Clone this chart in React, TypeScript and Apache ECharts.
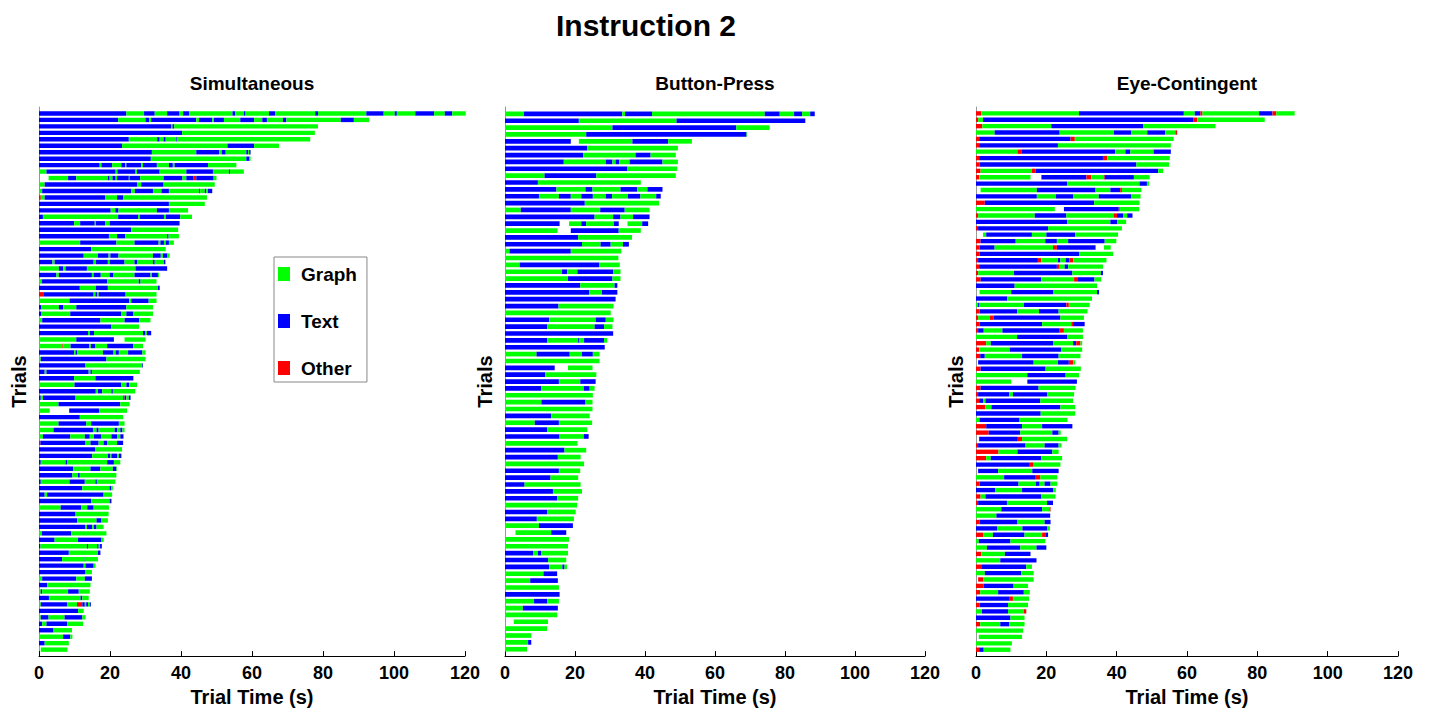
import React, { useEffect, useRef } from "react";
import * as echarts from "echarts";

const CATEGORIES = ["Graph", "Text", "Other"];
const COLORS = ["#00ff00", "#0000ff", "#ff0000"];
const PANEL_TITLES = ["Simultaneous", "Button-Press", "Eye-Contingent"];
const MAIN_TITLE = "Instruction 2";
const X_AXIS_NAME = "Trial Time (s)";
const Y_AXIS_NAME = "Trials";

// Each trial: tokens "<code><end time s>", code G=Graph, B=Text, R=Other, W=no fixation
const SIMULTANEOUS = [
  "B24.6 G29.6 B32.6 G36.1 B39.6 G40.6 B42.3 G54.5 B55.3 G57.7 B58.2 G64.8 B66.5 G77.8 B78.6 G92.2 B97.1 G100.2 B100.8 G106 B111.3 G114.3 B116.4 G120.2",
  "B22.3 G30 B31 G31.6 B44.3 G45.1 B48.8 G49.3 B52.1 G56.7 B60.6 G62.9 B64.2 G68.7 B69.7 G85 B88.7 G93",
  "B37.3 G37.6 B38.1 G78.6",
  "B40.3 G77.7",
  "B25.3 G33.3 B34 G35.1 B35.7 G38.7 B39 G76.4",
  "B23.4 G53.1 B60.6 G67.6",
  "B31.8 G44.3 B50.7 G51.5 B52.6 G58.4 B58.9 G59.2 B59.6",
  "B31.5 G58.4 B59.3 G59.6",
  "B17.1 G17.6 B20.6 G23.2 B24.3 G24.6 B28.8 G29.3 B33.2 G36.6 B37.7 G38.2 B47.6 G55.6",
  "G2.1 B21.6 G22.1 B27.2 G27.6 B34 G41.5 B49 G53.5 B53.8 G57.7",
  "W2.7 G8.2 B10.5 G19.4 B19.9 G20.7 B21.6 G22 B25.3 G25.5 B28.5 G35.1 B40.4 G41.5 B43.4 R44.3 B49.2 G50",
  "G1.6 B27.6 G28.8 B35.1 G49.5",
  "G0.9 B26 G27 B32.1 G34.5 B36.6 G45.1 B45.4 G46.7 B47.1 G47.6 B48.8",
  "R0.5 G1.6 B18.7 G22 B23.7 G47.3",
  "B36.6 G46.7",
  "B20.2 G21.5 B22.4 G33.2 B36.6 G42",
  "B1.1 G22.3 B27.9 G28.4 B35.2 G35.7 B39.8 G43.1",
  "B9.9 G11.6 B15.7 G16 B18.6 G19.9 B39.6",
  "B26 G39.2",
  "B19.7 G22 B24.3 G36.1 B36.5 G39.4",
  "G11.6 B21.8 G26.9 B33.7 G34.2 B35.2 G35.7 B36.6 G38",
  "B14.7 G35.7",
  "B12.6 G16.6 B19.6 G20.1 B22.4 G32.1 B34.3 G34.9 B36.2 G36.8",
  "B3.8 G4.4 B15.4 G16 B19.4 G19.9 B24.1 G26.9 B27.6 G32.1 B32.6 G35.2 B35.6",
  "G5.6 B6.8 G7.5 B13.5 G27.2 B36.1",
  "B4.9 G5.6 B14.9 G15.4 B17.4 G19.9 B21 G26.9 B31.4 G31.8 B33.5 G33.8",
  "G0.8 B19.2 G28.1 B28.6 G33.1",
  "B11.5 G16 B19.4 G33.5 B34",
  "R1.4 B15.4 G15.9 B16.4 G16.8 B24.4 G33.1",
  "G8.6 B25.4 G26 B30.9 G33.1",
  "B0.7 G5.6 B6.8 G10.5 B24.6 G32.1",
  "B0.7 G8.8 B23.2 G24.6 B26.5 G32.1",
  "G0.9 B17.3 G24.1 B28.2 G31.4",
  "B20.4 G28.2",
  "B13.8 G14.3 B15.5 G29.3 B30 G30.4 B31.6",
  "G10.5 B21.1 W24.1 G30",
  "G6.6 R6.9 G8.9 B14.1 G14.6 B15.9 G19.2 B26.5 G29.3",
  "B9.9 G10.3 B10.8 G18 B21 G21.6 B22.5 G25.1 B29.1 G30",
  "G0.5 B19 G30",
  "B13.1 G29.1 B29.3",
  "B1.6 G2.1 B14 G14.5 B14.9 G28.4",
  "B9.9 G15.9 B26.5 G26.7",
  "G10 B23.2 G24.6 B25.4 G27.6",
  "B16 G16.6 B17.8 G20.4 B20.8 G27.1",
  "B0.5 G1.1 B10.3 G23.7 R24.1 B24.6 G25.3 B25.8",
  "G5.5 B22.9 G25.5",
  "G3 W8.5 B16.9 G24.8",
  "B11.5 G23.7",
  "G5.5 B13.3 G14.7 B22.5 G24.1",
  "G4.1 B15.2 G16.2 B16.8 G21.3 B22 G22.9 B23.5 G24.1",
  "G1.1 B8.8 G12.9 B14.3 G15.5 B17.6 G20.4 B22 G22.9 B23.8",
  "R0.4 B13.1 G14.5 B16.8 G18.2 B19.2 G22 B23.7",
  "B15.9 G23.4",
  "B15 G19.4 B20.1 G20.4 B22 G22.5 B23.2",
  "B0.5 G7.5 B7.9 G19.2 B21.1 G22.9",
  "B9.6 G14.5 B17.3 G20.8 B21.8 G22",
  "B9.4 G11 B11.5 G21.8",
  "B0.5 G8.6 B12.9 G15.9 B16.3 G21.5",
  "B12.2 G19.9 B20.4 G20.8",
  "B1.6 G2.3 B18.2 G20.6",
  "B14.7 G19.9 B20.4",
  "G6.1 B11.9 G13.6 B15.4 G19.7",
  "B10.3 G19.6",
  "B10.8 G16.2 B17.6 G19.4",
  "B13.1 G13.5 B15 G15.5 B16.2 G18.2",
  "G0.8 B9.1 G19",
  "B4.4 G11 B17.6 G18.2",
  "B0.4 G13.5 B13.8 G16.4 B16.8 G17.2 B17.7",
  "B8.4 G16.6 B17.3",
  "B6.5 G12.9 B13.1 G16.6",
  "B12.6 G13.1 B15.4 G15.9",
  "B13.1 G14.9",
  "G0.9 B10.5 G12.9 B14.9",
  "B2.3 G14.5",
  "G0.5 B0.9 G8.2 B11.2 G14.3",
  "B2.8 G11.7 B12.2 G14",
  "G0.5 B7.9 G10.7 R12.2 B12.9 G13.3 B13.8 G14.3 B14.6",
  "B11 G12.6",
  "G0.5 B2.7 G7.2 B12.2 G13.1",
  "B0.9 G2.1 B7.9 G12.4",
  "B4.1 G9.3",
  "G6.8 B8.8 G9.4",
  "B1.6 G8.4",
  "W0.5 G8",
];

const BUTTON_PRESS = [
  "G5.4 B33.5 G34.3 B42 G74.2 B78.5 G82.6 B84.9 G87.2 B88.5",
  "B21.1 G49 B85.8",
  "G30.7 B66.1 G75.6",
  "G23.2 B69 G69.2",
  "B18.8 W21.1 G36.4 B46.6 G53.4",
  "B23.5 G49.4",
  "B22.3 G37.3 B41.6 G48.8",
  "B16.8 G28.8 B30.7 G31.6 B32.6 G35.6 B45 G49.4",
  "B35 G49.2",
  "G11.3 B26.1 G48.8",
  "B9.4 G38.8",
  "B14.7 G23 B25 G33 B37.8 G40.7 B45",
  "B9.7 G15.4 B18.8 G21.8 B25.1 G28.8 B30.6 G35.1 B38.7 G43.2 B44.5",
  "B22.8 G44",
  "G4.5 B18.8 G27.2 B34.2 G41.3",
  "B25.6 G30.9 B33 G36.6 B41.3",
  "B15.6 W18.3 G21.8 B23.2 G31.1 B32.5 W35 G39.2 B40.9",
  "G15 W18.8 B32.5 G38.8",
  "B20.9 G36.3",
  "B22 G27.3 B30.2 G33.7 B35.4",
  "G1.3 B18.8 G33.2",
  "G32.4",
  "G4.2 B27 G32.8",
  "G16.3 B17.8 G20.7 B30.9 G33",
  "G18 B30.7 G33",
  "B21.5 G31.3 B32.1",
  "B24 G27.7 B32.1",
  "B31.6",
  "B15.3 G31",
  "G30.2",
  "B12.6 G25.9 B28.8 G31",
  "B12.1 G25.6 B28.3 G30.7",
  "B30.9",
  "B12.1 G20.9 B21.3 G22.6 B28.3 G29.2",
  "B28.5",
  "G9 B18.5 G22 B25.1 G27",
  "G27",
  "B14.2 W18 G25",
  "B11.5 G26.1",
  "B15.4 G21.5 B25.9",
  "B10.4 G22.5 B24.2 G25.6",
  "G25.1",
  "G10.4 B23 G25",
  "G25",
  "B13.2 G24.2",
  "G8.5 B15.4 G24.9",
  "B12.1 G23.5",
  "B15.6 G22.5 B23.9",
  "G20.7",
  "B17 G23.2",
  "B15.1 G21.6",
  "G22.6",
  "B15.4 G21.5",
  "B13 G20.9",
  "B5.6 G21.6",
  "B13.7 G22",
  "B14.9 G20.9",
  "G20.6",
  "B12 G20.2",
  "B9.1 G19.7",
  "G9.7 B19.4",
  "W3 G13.2 B17.5",
  "G18.3",
  "G18",
  "B8 G9.4 B10.4 G18",
  "B12.3 G17.5",
  "B12.6 G16.4 B17 G17.7",
  "G11 B14.9",
  "G7.2 B15.1",
  "G15.4",
  "B15.6",
  "G8.3 B12.1 G15.4",
  "G5.1 B15.1",
  "G14.9",
  "W2.5 G12.3",
  "G12",
  "G7.5",
  "G6.6 B7.5",
  "G6.3",
];

const EYE_CONTINGENT = [
  "R1.5 G29.3 B59.1 G62.2 B63.8 R64.4 G80.5 B84.3 R85.4 G90.6",
  "R0.6 G2 B61.9 R62.9 G82.1",
  "R1.8 G21.4 B47.5 G68.1",
  "G5.3 B23.8 G39.2 B44.2 G48.7 B53.8 G56.7 R57.2",
  "R0.9 B26.9 R28.1 G56.2",
  "R0.9 B23.3 G55.4",
  "G11.8 R12.9 B39.6 G42.5 B43.9 G50.5 B55.4",
  "R0.9 B36.1 R37.3 G55.1",
  "R1 B45.6 G54.9",
  "R1.3 G15.9 R16.9 B51.8 G53.2",
  "R0.9 G15.5 W18.6 B31.4 R32.8 G36.3 R36.6 B44.9 G49.4",
  "B25.9 G46.5 B48.6 G49.2",
  "W1.3 G17.3 B34 G38.2 B41 R41.5 G47",
  "B17.3 G22.7 B27.6 G34.9 B44.2 G46.8",
  "R2.5 B33.6 G46.5",
  "G22.4 W25 B40.6 R40.9 G46.4",
  "R0.6 G16.7 B25.7 G39.1 R40.1 B41.8 G43 B44.5",
  "B25.9 G38.2 B40.2 G42.7",
  "R0.6 B20.5 G41.5",
  "W2 G2.9 B15.9 G20 B28.2 G40.4",
  "R1.3 B11.3 G19.7 B23 G26.2 B36.6 G39.9",
  "R1 B5.3 G21.9 R23 B34 W36.4 G38.3",
  "R1 B29.3 G39",
  "R0.6 B17.6 R18.6 G23.3 B24 G25.5 B26.6 R27.6 G37.1",
  "R0.9 B23 R23.8 G25.2 B26.2 G36.1",
  "R0.6 G10.8 B27.4 G35.5 B36.1",
  "R1.3 B18.6 G27.9 R29 B33.7 G35.6",
  "B11 G34.4",
  "W1 G10 B21.9 G34.4 B35",
  "B8.9 G33",
  "G0.6 B1 G13.6 B25.7 R26.4 G32.3",
  "R1 B11.7 G17.9 B23.5 G31.7",
  "R0.6 G3.9 R5 B24 G30.7",
  "R1 B18.8 G27.1 R27.6 B30.9",
  "R0.6 B2.2 G7.5 B23.8 R25 G30.4",
  "G11.7 B26 G30.4",
  "R2.9 G4.2 B21.9 G27.6 B28.5 R29.7 G30.2",
  "R0.9 G9.6 B24.3 G30.2",
  "R1.2 B2.5 G13.1 B23.5 G29.7",
  "W0.6 B16.4 G23.3 B26.4 R27.6 G28.2",
  "R1.3 B19.8 G29.8",
  "G14.6 B25.5 G29.3",
  "G10 W14.6 B28.7",
  "R1.3 B17.8 G28.3",
  "R0.6 B9.4 G10.5 B20.3 G27.9",
  "R0.9 B2 G2.7 B18.3 G27.6",
  "R2.7 G4.4 B24 G28.2",
  "B18.4 G28.2",
  "G1 B12.4 G26",
  "R2.9 B13.1 G18.8 B27.4",
  "R3.6 B12.6 G21.7 B23.5 G24.1",
  "W0.9 B11.9 R13.1 G25.9",
  "R0.6 B14.1 G19.5 B23.5 G24.3",
  "R6.4 G11.8 B21.7 G23.5",
  "R2.9 G4.2 B18.6 G24.5",
  "B15.3 R16.4 G24",
  "W0.6 B6.3 G16 B23.5",
  "G8 B17 R18.3 G23.1",
  "R1 B12.1 G17 B18.1 G19.5 B21.2 G23.1",
  "B5.5 G13.1 B21.9 G22.7",
  "R1.3 G2.7 B18.6 G22.6",
  "R0.6 B8.8 G20.2 B21.9",
  "G7.2 B18.8 G20.9 R21.2",
  "G5.8 B21.1",
  "R1 B11.8 G19.5 B21.2",
  "B6.1 G13.2 B20.3 G21",
  "R2 G4.8 B13.8 G18.8 R19.7 B20.5",
  "G0.8 B9.8 G19.7",
  "G3.1 B12.6 G17.2 B20",
  "R1.5 G8.2 B15.5",
  "G6.9 B17.2",
  "R1.5 B14.3 G15.9",
  "G2.5 B12.9 G16.4",
  "W0.6 R2 G16.4",
  "R2.2 B10.7 G14.8",
  "R1.2 G6.3 B13.6 G15.3",
  "B9.6 R10.5 G15.1",
  "R1 B9.1 G14.8",
  "G1.7 B9.1 G13.6 R14.3",
  "B9.8 G13.8",
  "R1.2 G6.9 B9.4 G13.8",
  "G13.4",
  "W0.8 G13.1",
  "G10.2",
  "R0.9 B2.2 G9.8",
];

const PANELS = [SIMULTANEOUS, BUTTON_PRESS, EYE_CONTINGENT];

function parseTrials(rows: string[]): number[][] {
  const out: number[][] = [];
  rows.forEach((row, i) => {
    let t = 0;
    row.trim().split(/\s+/).forEach((tok) => {
      const code = tok[0];
      const end = parseFloat(tok.slice(1));
      const idx = code === "G" ? 0 : code === "B" ? 1 : code === "R" ? 2 : -1;
      if (idx >= 0 && end > t) out.push([i + 1, t, end, idx]);
      t = end;
    });
  });
  return out;
}

const FONT = "'Liberation Sans', Arial, Helvetica, sans-serif";

export default function App() {
  const ref = useRef<HTMLDivElement>(null);

  useEffect(() => {
    if (!ref.current) return;
    const chart = echarts.init(ref.current, null, { renderer: "svg" });

    const grids = [
      { left: 39, top: 107, width: 426, height: 558 },
      { left: 505, top: 107, width: 420, height: 558 },
      { left: 976, top: 107, width: 422, height: 558 },
    ];
    const titleCenters = [252, 715, 1187];

    const xAxes = grids.map((_, i) => ({
      type: "value",
      gridIndex: i,
      position: "bottom",
      min: 0,
      max: 120,
      interval: 20,
      name: X_AXIS_NAME,
      nameLocation: "middle",
      nameGap: 27,
      nameTextStyle: { fontSize: 20, fontWeight: "bold", color: "#000", fontFamily: FONT },
      axisLine: { show: true, onZero: false, lineStyle: { color: "#000", width: 1 } },
      axisTick: { show: true, inside: true, length: 5, lineStyle: { color: "#000" } },
      axisLabel: { show: true, margin: 8, fontSize: 18, fontWeight: "bold", color: "#000", fontFamily: FONT },
      splitLine: { show: false },
    }));

    const yAxes = grids.map((_, i) => ({
      type: "value",
      gridIndex: i,
      position: "left",
      min: 0,
      max: PANELS[i].length + 1,
      inverse: true,
      name: Y_AXIS_NAME,
      nameLocation: "middle",
      nameGap: 10,
      nameTextStyle: { fontSize: 20, fontWeight: "bold", color: "#000", fontFamily: FONT },
      axisLine: { show: true, onZero: false, lineStyle: { color: "#999", width: 1 } },
      axisTick: { show: false },
      axisLabel: { show: false },
      splitLine: { show: false },
    }));

    const barSeries = PANELS.map((rows, i) => ({
      type: "custom",
      name: PANEL_TITLES[i],
      xAxisIndex: i,
      yAxisIndex: i,
      encode: { x: [1, 2], y: 0 },
      data: parseTrials(rows),
      renderItem: (params: any, api: any) => {
        const row = api.value(0);
        const s = api.value(1);
        const e = api.value(2);
        const c = api.value(3);
        const p0 = api.coord([s, row]);
        const p1 = api.coord([e, row]);
        const h = Math.abs(api.size([0, 0.68])[1]);
        return {
          type: "rect",
          shape: { x: p0[0], y: p0[1] - h / 2, width: Math.max(p1[0] - p0[0], 0.5), height: h },
          style: { fill: COLORS[c], opacity: 1 },
        };
      },
    }));

    const legendSeries = CATEGORIES.map((name, k) => ({
      type: "scatter",
      name,
      xAxisIndex: 0,
      yAxisIndex: 0,
      data: [],
      itemStyle: { color: COLORS[k], opacity: 1 },
    }));

    chart.setOption({
      animation: false,
      backgroundColor: "#fff",
      title: [
        {
          text: MAIN_TITLE,
          left: 646,
          top: 10,
          textAlign: "center",
          padding: 0,
          textStyle: { fontSize: 30, fontWeight: "bold", color: "#000", fontFamily: FONT },
        },
        ...PANEL_TITLES.map((t, i) => ({
          text: t,
          left: titleCenters[i],
          top: 74,
          textAlign: "center",
          padding: 0,
          textStyle: { fontSize: 19, fontWeight: "bold", color: "#000", fontFamily: FONT },
        })),
      ],
      legend: {
        orient: "vertical",
        left: 274,
        top: 257,
        itemWidth: 12,
        itemHeight: 14,
        itemGap: 27,
        padding: [7, 10, 4, 4],
        borderColor: "#888",
        borderWidth: 1,
        backgroundColor: "#fff",
        selectedMode: false,
        itemStyle: { opacity: 1 },
        textStyle: {
          fontSize: 19,
          fontWeight: "bold",
          color: "#000",
          fontFamily: FONT,
          lineHeight: 20,
          padding: [0, 0, 0, 6],
        },
        data: CATEGORIES.map((name, k) => ({ name, icon: "rect", itemStyle: { color: COLORS[k], opacity: 1 } })),
      },
      grid: grids,
      xAxis: xAxes,
      yAxis: yAxes,
      series: [...barSeries, ...legendSeries],
    });

    return () => chart.dispose();
  }, []);

  return (
    <div
      ref={ref}
      style={{ position: "absolute", left: 0, top: 0, width: 1431, height: 712, background: "#fff" }}
    />
  );
}
